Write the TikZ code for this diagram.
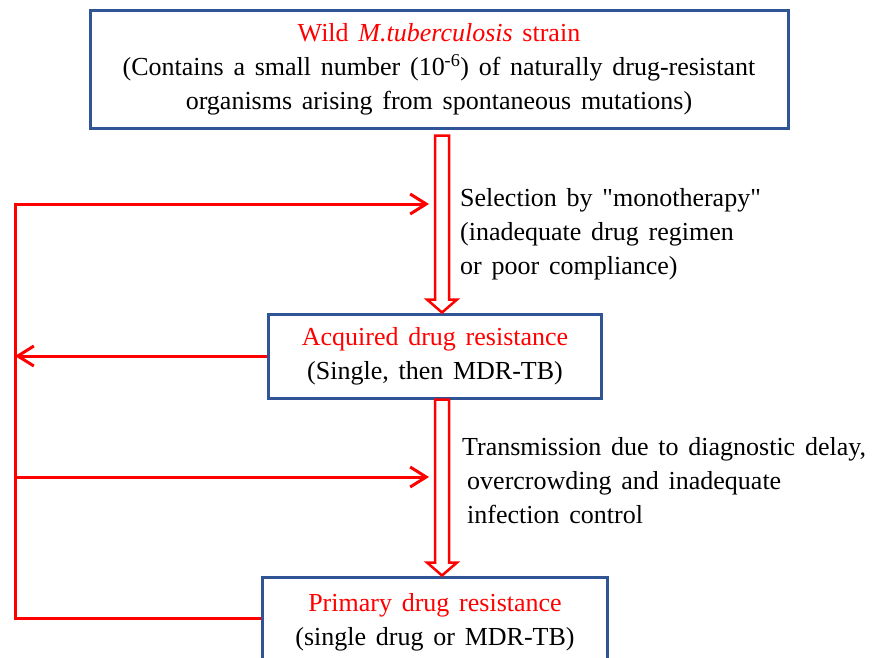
\documentclass[tikz,border=0pt]{standalone}
\usepackage{fontspec}
\setmainfont{Liberation Serif}[WordSpace=1.5]
\usetikzlibrary{arrows.meta,calc}
\definecolor{boxblue}{RGB}{47,85,151}
\tikzset{
  tbnode/.style = {align=center, inner sep=0pt,
    font=\fontsize{26}{34}\selectfont},
  tb_box/.style = {tbnode, rectangle, draw=boxblue, line width=3pt},% blue box
  tb_lbl/.style = {tbnode, align=left, anchor=north west},% side text
  tb_feed/.style = {red, line width=3pt},% thin red line
  tb_hollow/.style = {draw=red, line width=2.5pt, fill=white,
    to path={let \p1=(\tikztostart), \p2=(\tikztotarget) in
      (\x1-7pt,\y1) -- (\x1+7pt,\y1) -- (\x1+7pt,\y2+13pt)
      -- (\x1+15pt,\y2+13pt) -- (\x1,\y2) -- (\x1-15pt,\y2+13pt)
      -- (\x1-7pt,\y2+13pt) -- cycle}}% hollow arrow
}
\begin{document}
\begin{tikzpicture}[x=1pt,y=-1pt,>={Straight Barb[length=16pt,width=20pt]}]
\clip (0,0) rectangle (875,657);
\node [tb_box, minimum width=698pt, minimum height=118pt] (wild) at (439,69)
  {\textcolor{red}{Wild \textit{M.tuberculosis} strain}\\
   (Contains a small number (10\textsuperscript{-6}) of naturally drug-resistant\\
   organisms arising from spontaneous mutations)};
\node [tb_box, minimum width=333pt, minimum height=84pt] (acq) at (435,356)
  {\textcolor{red}{Acquired drug resistance}\\(Single, then MDR-TB)};
\node [tb_box, minimum width=345pt, minimum height=90pt] (prim) at (435,622)
  {\textcolor{red}{Primary drug resistance}\\(single drug or MDR-TB)};
\node [tb_lbl] (seltxt) at (460,188)
  {Selection by \textquotedbl monotherapy\textquotedbl\\(inadequate drug regimen\\or poor compliance)};
\node [tb_lbl] (tratxt) at (462,437)
  {Transmission due to diagnostic delay,\\\hspace{5pt}overcrowding and inadequate\\\hspace{5pt}infection control};
\coordinate (col) at (442,0);
\coordinate (ltop) at (15,204);
\coordinate (lbot) at (15,618);
\coordinate (sel) at (429,204);
\coordinate (tra) at (429,477);
\draw [tb_hollow] ($(wild.south -| col)+(0,6)$) to (acq.north -| col);
\draw [tb_hollow] (acq.south -| col) to (prim.north -| col);
\draw [tb_feed, ->] ([yshift=4pt]prim.west) -- (lbot) -- (ltop) -- (sel);
\draw [tb_feed, ->] (acq.west) -- (acq.west -| lbot);
\draw [tb_feed, ->] (lbot |- tra) -- (tra);
\end{tikzpicture}
\end{document}
